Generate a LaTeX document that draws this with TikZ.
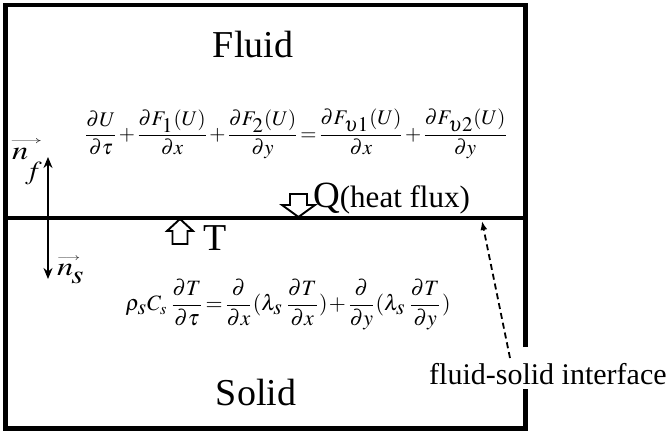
\documentclass[tikz,border=0pt]{standalone}
\usepackage{mathptmx}
\usepackage{graphicx}
\usepackage[no-math]{fontspec}
\setmainfont{Liberation Serif}
\usetikzlibrary{arrows.meta}
\newcommand{\vecbar}[1]{\resizebox{#1}{3.5pt}{$\longrightarrow$}}
\tikzset{
  frame/.style={line width=4.6pt},
  hollow/.style={draw=black,fill=white,line width=1.9pt,line join=miter},
  big/.style={font=\fontsize{38}{40}\selectfont, inner sep=0pt},
  mid/.style={font=\fontsize{30}{32}\selectfont, inner sep=0pt},
  eq/.style={inner sep=0pt},
  vlab/.style={inner sep=0pt,anchor=base west,font=\fontsize{26}{28}\selectfont},
}
\begin{document}
\begin{tikzpicture}[x=1pt,y=-1pt]
\useasboundingbox (0,0) rectangle (668,435);
% frame
\coordinate (g1) at (525.5,347);
\coordinate (g2) at (525.5,389);
\draw[frame,line join=miter] (g1) -- (525.5,5) -- (5.5,5) -- (5.5,428.5) -- (525.5,428.5) -- (g2);
\coordinate (il) at (5.5,218);
\coordinate (ir) at (525.5,218);
\draw[line width=4.2pt] (il) -- (ir);
% titles
\node[big,anchor=base] (fluid) at (253,58) {Fluid};
\node[big,anchor=base] (solid) at (256,405) {Solid};
% fluid equation
\node[eq] (feq) at (296,134) {\resizebox{424pt}{!}{\medmuskip=1mu\thickmuskip=1.5mu$\displaystyle
 \frac{\partial U}{\partial\tau}+\frac{\partial F_{\textstyle 1}(U)}{\partial x}+\frac{\partial F_{\textstyle 2}(U)}{\partial y}
 =\frac{\partial F_{\textstyle\upsilon1}(U)}{\partial x}+\frac{\partial F_{\textstyle\upsilon2}(U)}{\partial y}$}};
% solid equation
\node[eq] (seq) at (288,305) {\resizebox{325pt}{!}{\medmuskip=1mu\thickmuskip=1.5mu$\displaystyle
 \rho_{\textstyle s} C_s\,\frac{\partial T}{\partial\tau}=\frac{\partial}{\partial x}(\lambda_{\textstyle s}\,\frac{\partial T}{\partial x})+\frac{\partial}{\partial y}(\lambda_{\textstyle s}\,\frac{\partial T}{\partial y})$}};
% normals
\coordinate (nt) at (48,157);
\coordinate (nb) at (48,279);
\draw[line width=2.6pt,{Stealth[length=11pt,width=9pt]}-{Stealth[length=11pt,width=9pt]}] (nb) -- (nt);
\node[vlab] (nf) at (12,160) {\rlap{\kern-2pt\raisebox{16pt}{\vecbar{32pt}}}\scalebox{1.25}[1]{$n$}\kern-3pt\lower20pt\hbox{\scalebox{1.1}[1]{$f$}}};
\node[vlab] (ns) at (57,275) {\rlap{\raisebox{15pt}{\vecbar{23pt}}}\scalebox{1.25}[1]{$n$}\kern-2pt\lower9pt\hbox{\scalebox{1.2}[1]{$s$}}};
% hollow arrow T (up)
\draw[hollow] (180,219) -- (193,231) -- (187.5,231) -- (187.5,244) -- (172.5,244) -- (172.5,231) -- (167,231) -- cycle;
\node[big,anchor=base west] (T) at (203,251) {T};
% hollow arrow Q (down)
\draw[hollow] (298.5,217) -- (315,205) -- (307,205) -- (307,194) -- (290,194) -- (290,205) -- (282,205) -- cycle;
\node[inner sep=0pt,anchor=base west] (Q) at (313,208) {\fontsize{37}{40}\selectfont Q\fontsize{31}{32}\selectfont(heat flux)};
% interface label
\node[mid,anchor=base west] (lab) at (429,384) {fluid-solid interface};
\coordinate (ds) at (510,358);
\coordinate (dt) at (482,221);
\draw[line width=1.8pt,dash pattern=on 6pt off 4pt,-{Latex[length=9pt,width=7pt]}] (ds) -- (dt);
\end{tikzpicture}
\end{document}
